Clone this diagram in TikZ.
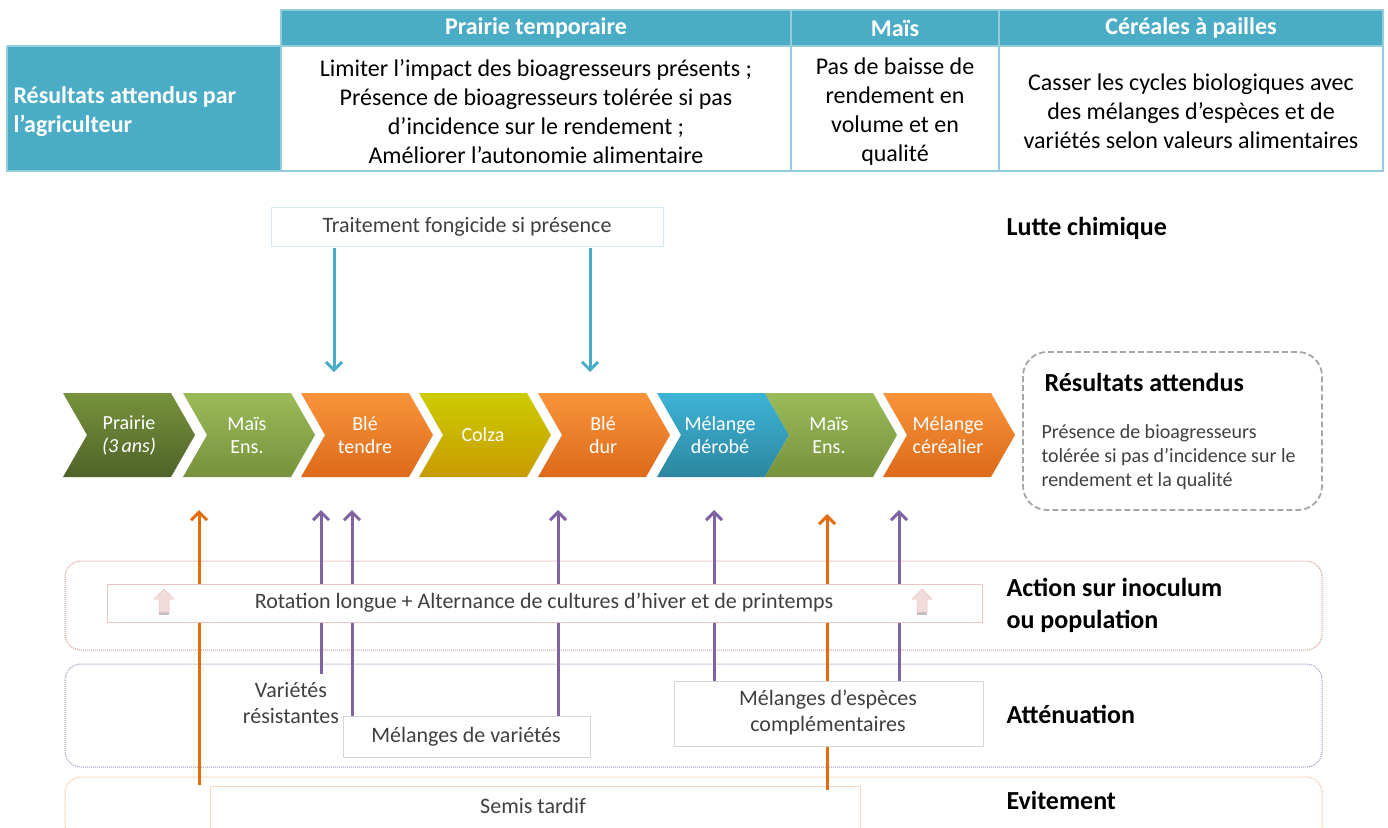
\documentclass[tikz,border=0pt]{standalone}
\usepackage{fontspec}
\setmainfont{Carlito}
\usetikzlibrary{arrows.meta,calc}
\definecolor{tabhead}{HTML}{4BACC6}
\definecolor{tabline}{HTML}{92CDDC}
\definecolor{txtgray}{HTML}{404040}
\definecolor{arrorange}{HTML}{E46C0A}
\definecolor{arrpurple}{HTML}{8064A2}
\definecolor{arrblue}{HTML}{4BACC6}
\definecolor{bandred}{HTML}{D99694}
\definecolor{bandpurple}{HTML}{A593C4}
\definecolor{bandorange}{HTML}{F9B98A}
\definecolor{pinkfill}{HTML}{F2DCDB}
\definecolor{pinkline}{HTML}{EBC4C3}
\definecolor{boxgray}{HTML}{D0D8DE}
\definecolor{boxblue}{HTML}{D4EAF0}
\definecolor{boxorange}{HTML}{FCD9BE}
\definecolor{prairieT}{HTML}{77933C}
\definecolor{prairieB}{HTML}{4F6228}
\definecolor{maisT}{HTML}{9BBB59}
\definecolor{maisB}{HTML}{76923C}
\definecolor{bleT}{HTML}{F9943B}
\definecolor{bleB}{HTML}{DC6A1A}
\definecolor{colzaT}{HTML}{CCCC00}
\definecolor{colzaB}{HTML}{C89B00}
\definecolor{derobeT}{HTML}{3DB4D6}
\definecolor{derobeB}{HTML}{2D86A0}
\definecolor{resgray}{HTML}{A6A6A6}
\tikzset{
  head/.style={text=white, font=\fontsize{24}{29}\selectfont\bfseries},
  cell/.style={text=black, align=center, font=\fontsize{24}{29}\selectfont},
  chevtxt/.style={text=white, align=center, font=\fontsize{20}{23}\selectfont},
  bandlab/.style={anchor=west, align=left, text=black, font=\fontsize{26}{32}\selectfont\bfseries},
  boxtxt/.style={text=txtgray, align=center, font=\fontsize{22}{26}\selectfont},
  band/.style={densely dotted, line width=1pt, rounded corners=16},
  whitebox/.style={draw, fill=white, line width=0.8pt},
  barb/.style={-{Straight Barb[length=8pt,width=16pt,line width=3pt]}},
  upblue/.style={draw=arrblue, line width=3pt, barb},
  uporange/.style={draw=arrorange, line width=3pt, barb},
  uppurple/.style={draw=arrpurple, line width=3pt, barb},
  pinkarrow/.style={fill=pinkfill, draw=pinkline, line width=0.5pt},
  pinkshadow/.style={fill=black!25},
}
\newcommand{\mychevron}[3]{%
  \path[top color=#2, bottom color=#3, draw=none]
    (#1,393) -- ++(108,0) -- ++(24,42) -- ++(-24,42) -- ++(-108,0) -- ++(24,-42) -- cycle;}
\newcommand{\pinkup}[1]{%
  \path[pinkshadow] (#1-5,602) rectangle (#1+5,615);
  \path[pinkarrow] (#1,589) -- (#1+10,599) -- (#1+5,599) -- (#1+5,612) -- (#1-5,612) -- (#1-5,599) -- (#1-10,599) -- cycle;}
\begin{document}
\begin{tikzpicture}[x=1pt,y=-1pt]
\useasboundingbox[fill=white] (0,0) rectangle (1388,827);

% ---------- table ----------
\fill[tabhead] (281,10) rectangle (1383,46);
\fill[tabhead] (7,46) rectangle (281,171);
\draw[tabline, line width=2pt] (281,10) rectangle (1383,171);
\draw[tabline, line width=2pt] (791,10) -- (791,171) (999,10) -- (999,171)
  (7,46) -- (1383,46) (7,46) -- (7,171) -- (281,171);
\node[head] (h1) at (536,28) {Prairie temporaire};
\node[head] (h2) at (895,28) {Maïs};
\node[head] (h3) at (1191,28) {Céréales à pailles};
\node[head, anchor=west, align=left] (rowlab) at (10,111.5) {Résultats attendus par\\l’agriculteur};
\node[cell] (c1) at (536,111.5) {Limiter l’impact des bioagresseurs présents ;\\Présence de bioagresseurs tolérée si pas\\d’incidence sur le rendement ;\\Améliorer l’autonomie alimentaire};
\node[cell] (c2) at (895,111.5) {Pas de baisse de\\rendement en\\volume et en\\qualité};
\node[cell] (c3) at (1191,111) {Casser les cycles biologiques avec\\des mélanges d’espèces et de\\variétés selon valeurs alimentaires};

% ---------- bands ----------
\draw[band, draw=bandred] (65,561) rectangle (1322,650);
\draw[band, draw=bandpurple] (65,664) rectangle (1322,767);
\draw[band, draw=bandorange] (65,777) rectangle (1322,850);

\node[bandlab] (lutte) at (1003,228) {Lutte chimique};
\node[bandlab] (action) at (1003,605) {Action sur inoculum\\ou population};
\node[bandlab] (atten) at (1003,714) {Atténuation};
\node[bandlab] (evit) at (1003,800) {Evitement};

% ---------- chevrons ----------
\mychevron{63}{prairieT}{prairieB}
\mychevron{183}{maisT}{maisB}
\mychevron{301}{bleT}{bleB}
\mychevron{419}{colzaT}{colzaB}
\mychevron{538}{bleT}{bleB}
\mychevron{657}{derobeT}{derobeB}
\mychevron{765}{maisT}{maisB}
\mychevron{883}{bleT}{bleB}
\node[chevtxt] (prairie) at (129,435) {Prairie\\\textit{(3\,ans)}};
\node[chevtxt] (mais1) at (247,435) {Maïs\\Ens.};
\node[chevtxt] (bletendre) at (365,435) {Blé\\tendre};
\node[chevtxt] (colza) at (483,435) {Colza};
\node[chevtxt] (bledur) at (603,435) {Blé\\dur};
\node[chevtxt] (derobe) at (720,435) {Mélange\\dérobé};
\node[chevtxt] (mais2) at (829,435) {Maïs\\Ens.};
\node[chevtxt] (cerealier) at (948,435) {Mélange\\céréalier};

% ---------- résultats attendus ----------
\draw[resgray, dash pattern=on 6pt off 3pt, line width=1.8pt, rounded corners=24] (1023,352) rectangle (1322,510);
\node[anchor=west, text=black, font=\fontsize{26}{30}\selectfont\bfseries] (restitle) at (1041,382) {Résultats attendus};
\node[anchor=north west, align=left, text=txtgray, font=\fontsize{20}{24}\selectfont] (resbody) at (1038,421) {Présence de bioagresseurs\\tolérée si pas d’incidence sur le\\rendement et la qualité};

% ---------- lutte chimique ----------
\node[whitebox, draw=boxblue, minimum width=392pt, minimum height=39pt, boxtxt] (traitement) at (467,226.5) {Traitement fongicide si présence};
\coordinate (t1) at (334,372);
\coordinate (t2) at (590,372);
\draw[upblue] (traitement.south -| t1) ++(0,2) -- (t1);
\draw[upblue] (traitement.south -| t2) ++(0,2) -- (t2);

% ---------- boxes in lower bands (behind lines) ----------
\node[whitebox, draw=boxorange, minimum width=650pt, minimum height=44pt, anchor=north west] (semis) at (210,786) {};
\node[boxtxt] (semistxt) at (533,806) {Semis tardif};

% ---------- arrows up ----------
\coordinate (a1s) at (199,785);  \coordinate (a1e) at (199,510);
\coordinate (a2s) at (321,674);  \coordinate (a2e) at (321,510);
\coordinate (a3s) at (352,716);  \coordinate (a3e) at (352,510);
\coordinate (a4s) at (558,716);  \coordinate (a4e) at (558,510);
\coordinate (a5s) at (714,681);  \coordinate (a5e) at (714,510);
\coordinate (a6s) at (827,790);  \coordinate (a6e) at (827,514);
\coordinate (a7s) at (899,681);  \coordinate (a7e) at (899,510);
\draw[uporange] (a1s) -- (a1e);
\draw[uppurple] (a2s) -- (a2e);
\draw[uppurple] (a3s) -- (a3e);
\draw[uppurple] (a4s) -- (a4e);
\draw[uppurple] (a5s) -- (a5e);
\draw[uporange] (a6s) -- (a6e);
\draw[uppurple] (a7s) -- (a7e);

% ---------- boxes above lines ----------
\node[whitebox, draw=pinkline, minimum width=875pt, minimum height=38pt, anchor=north west] (rotation) at (107,584) {};
\node[boxtxt] (rottxt) at (544,603) {Rotation longue + Alternance de cultures d’hiver et de printemps};
\pinkup{164}
\pinkup{922}

\node[boxtxt] (varres) at (291,703) {Variétés\\résistantes};
\node[whitebox, draw=boxgray, minimum width=247pt, minimum height=41pt, anchor=north west] (melvar) at (343,716) {};
\node[boxtxt] (melvartxt) at (466,737) {Mélanges de variétés};
\node[whitebox, draw=boxgray, minimum width=309pt, minimum height=65pt, anchor=north west] (melesp) at (674,681) {};
\node[boxtxt] (melesptxt) at (828,713) {Mélanges d’espèces\\complémentaires};
\end{tikzpicture}
\end{document}
